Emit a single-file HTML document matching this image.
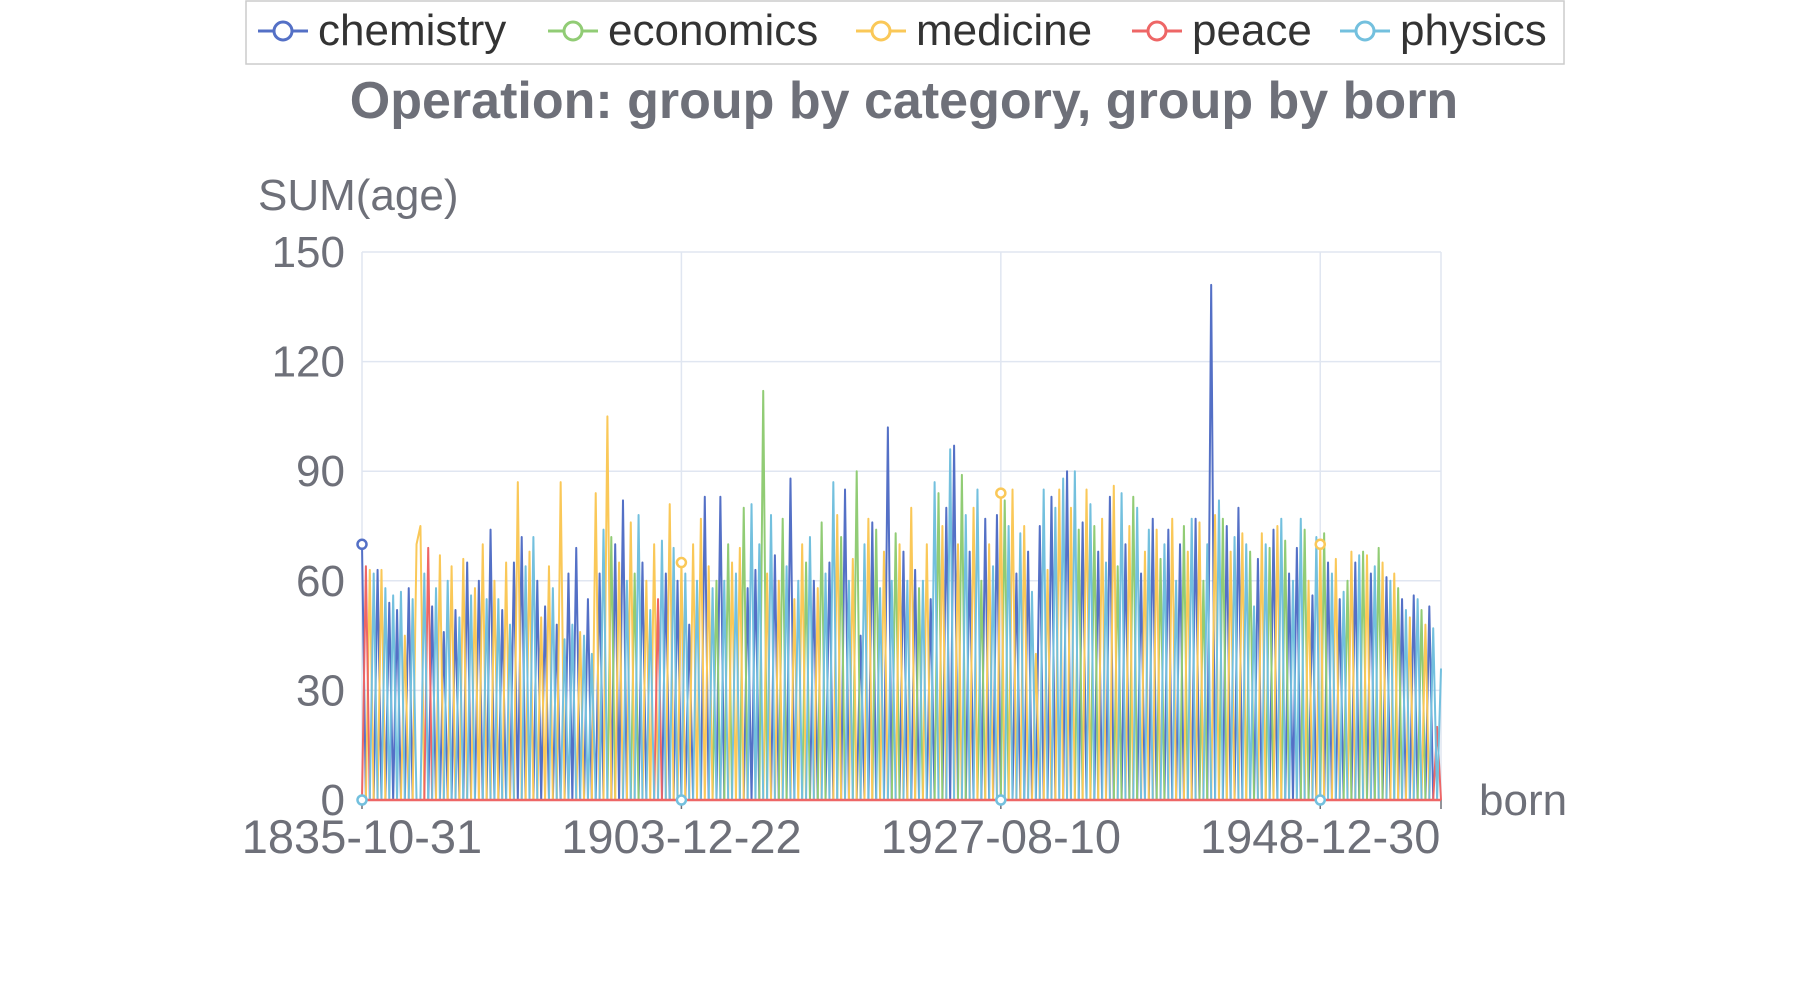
<!DOCTYPE html>
<html><head><meta charset="utf-8"><style>
html,body{margin:0;padding:0;background:#fff;}
svg text{font-family:"Liberation Sans",sans-serif;}
</style></head><body>
<svg id="chart" width="1800" height="1000" xmlns="http://www.w3.org/2000/svg">
<rect x="246" y="1" width="1318" height="63" fill="#fff" stroke="#ccc" stroke-width="1.5"/>
<g id="legend"></g>
<text x="904" y="118" text-anchor="middle" font-size="52" font-weight="bold" fill="#6e7079">Operation: group by category, group by born</text>
<text x="258" y="210" font-size="44" fill="#6e7079">SUM(age)</text>
<text x="1479" y="815" font-size="44" fill="#6e7079">born</text>
<g id="grid"></g>
<g id="series"></g>
<g id="marks"></g>
</svg>
<script>
const seriesNames=["chemistry","economics","medicine","peace","physics"];
const seriesColors=["#5470c6","#91cc75","#fac858","#ee6666","#73c0de"];
const yTicks=[0,30,60,90,120,150];
const xLabelIdx=[0,82,164,246];
const xLabels=["1835-10-31","1903-12-22","1927-08-10","1948-12-30"];
// series owner per category (c=chemistry,e=economics,m=medicine,r=peace,p=physics)
const owners=("crmpcmpcpcpmcpmmprcpmcpmcpmcpm"+"cmpcmpcmpcmcpmpcmcmpcmpcpcmpcp"+"mcpmecmcpmepcmpmrpcmpcmpcmpmcm"+"pecpempmecpcpempcmepcmpmepcmep"+"cpmecpmecpmcepmcpemcpmcepmcpem"+"cpcmepcmpecmpcmepmcpmcpmcpmcpm"+"pcmpecmpecmpcmepcmepcmpcmepcmp"+"cempcmepcmpecmpcmpepcmpecmpecp"+"cpemcpmecpmcpemcpemcpemcpmecpm"+"cpemcprp").split("");
const ages=[70,64,63,62,63,63,58,54,56,52,57,45,58,55,70,75,62,69,53,58,67,46,60,64,52,50,66,65,56,58,
60,70,55,74,60,55,52,65,48,65,87,72,64,68,72,60,50,53,64,58,48,87,44,62,48,69,46,45,55,40,
84,62,74,105,72,70,65,82,60,76,62,78,65,60,52,70,55,71,62,81,69,60,65,62,48,70,60,77,83,64,
58,60,83,60,70,65,62,69,80,58,81,63,70,112,62,78,67,60,77,64,88,55,60,70,65,72,60,58,76,62,
65,87,78,72,85,60,66,90,45,70,77,76,74,58,68,102,60,73,70,68,60,80,63,58,60,70,55,87,84,75,
80,96,97,70,89,78,68,80,85,60,77,70,64,78,84,82,75,85,62,73,75,68,57,40,75,85,63,83,80,85,
88,90,80,90,74,76,85,81,75,68,77,65,83,86,64,84,70,75,83,80,62,68,74,77,74,66,70,74,77,60,
70,75,68,77,77,76,60,70,141,78,82,77,75,68,72,80,73,70,68,53,66,73,70,69,74,75,77,71,62,60,
69,77,74,60,56,72,70,73,65,62,66,55,57,60,68,65,67,68,67,62,64,69,65,61,60,62,58,55,52,50,
56,55,52,48,53,47,20,36];
const ownerCode={c:0,e:1,m:2,r:3,p:4};
const N=Math.min(owners.length,ages.length);
const X0=362,X1=1441,Y0=800,Y1=252,YMAX=150;
const xs=i=>X0+(X1-X0)*i/(N-1);
const ys=v=>Y0-(Y0-Y1)*v/YMAX;
const NS="http://www.w3.org/2000/svg";
function mk(tag,attrs,parent){const e=document.createElementNS(NS,tag);for(const k in attrs)e.setAttribute(k,attrs[k]);parent.appendChild(e);return e;}
const grid=document.getElementById('grid');
yTicks.forEach(t=>{
  const l=mk('line',{x1:X0,x2:X1,y1:ys(t),y2:ys(t),stroke:'#e0e6f1','stroke-width':1.5},grid);
  
  
  const tx=mk('text',{x:345,y:ys(t)+15,'text-anchor':'end','font-size':44,fill:'#6e7079'},grid);
  tx.textContent=t;
  
  
});
xLabelIdx.forEach((ix,k)=>{
  const l=mk('line',{x1:xs(ix),x2:xs(ix),y1:Y1,y2:Y0,stroke:'#e0e6f1','stroke-width':1.5},grid);
  
  
  const tk=mk('line',{x1:xs(ix),x2:xs(ix),y1:Y0,y2:Y0+9,stroke:'#6e7079','stroke-width':1.5},grid);
  
  
  const tx=mk('text',{x:xs(ix),y:853,'text-anchor':'middle','font-size':47,fill:'#6e7079'},grid);
  tx.textContent=xLabels[k];
  
  
});
mk('line',{x1:X1,x2:X1,y1:Y1,y2:Y0,stroke:'#e0e6f1','stroke-width':1.5},grid);
const endTick=mk('line',{x1:X1,x2:X1,y1:Y0,y2:Y0+9,stroke:'#6e7079','stroke-width':1.5},grid);


const sg=document.getElementById('series');
const mg=document.getElementById('marks');
seriesNames.forEach((name,s)=>{
  let d='';
  for(let i=0;i<N;i++){const v=ownerCode[owners[i]]===s?ages[i]:0;d+=(i?'L':'M')+xs(i).toFixed(2)+','+ys(v).toFixed(2);}
  const p=mk('path',{d:d,fill:'none',stroke:seriesColors[s],'stroke-width':2,'stroke-linejoin':'round'},sg);
  
  
});
const base=mk('line',{x1:X0,x2:X1,y1:Y0,y2:Y0,stroke:'#ee6666','stroke-width':2.5},sg);


xLabelIdx.forEach(ix=>{
  const s=ownerCode[owners[ix]];
  const c=mk('circle',{cx:xs(ix),cy:ys(ages[ix]),r:4.5,fill:'#fff',stroke:seriesColors[s],'stroke-width':2.5},mg);
  
  
  const z=mk('circle',{cx:xs(ix),cy:Y0,r:4.5,fill:'#fff',stroke:seriesColors[4],'stroke-width':2.5},mg);
  
  
});
const lg=document.getElementById('legend');
const legIconX=[258,548,856,1132,1340];
legIconX.forEach((x,s)=>{
  const g=mk('g',{},lg);
  
  
  mk('line',{x1:x,x2:x+50,y1:31,y2:31,stroke:seriesColors[s],'stroke-width':3},g);
  mk('circle',{cx:x+25,cy:31,r:9,fill:'#fff',stroke:seriesColors[s],'stroke-width':3},g);
  const t=mk('text',{x:x+60,y:45,'font-size':44,fill:'#333'},g);
  t.textContent=seriesNames[s];
});
</script>
</body></html>
